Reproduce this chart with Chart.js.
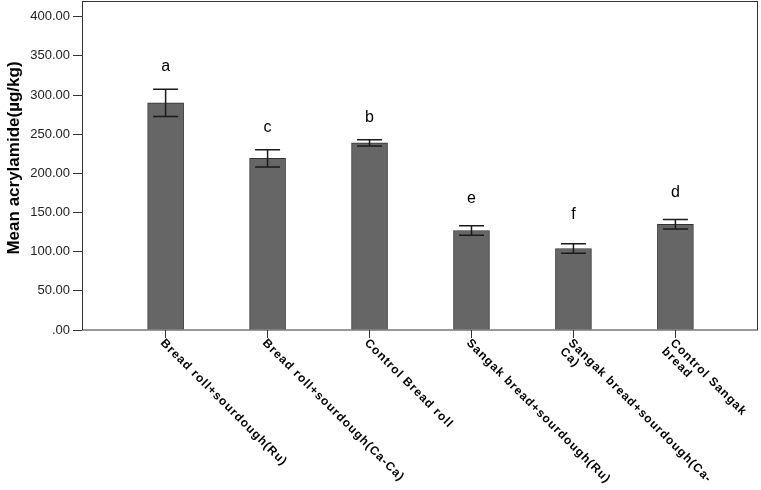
<!DOCTYPE html>
<html>
<head>
<meta charset="utf-8">
<script src="https://cdn.jsdelivr.net/npm/chart.js@4"></script>
<style>
html,body{margin:0;padding:0;background:#fff;}
#wrap{width:761px;height:490px;position:relative;}
</style>
</head>
<body>
<div id="wrap"><canvas id="c" width="761" height="490"></canvas></div>
<script>
// Data
const categories = [
  ['Bread roll+sourdough(Ru)'],
  ['Bread roll+sourdough(Ca-Ca)'],
  ['Control Bread roll'],
  ['Sangak bread+sourdough(Ru)'],
  ['Sangak bread+sourdough(Ca-', 'Ca)'],
  ['Control Sangak', 'bread']
];
const means = [290, 219, 239, 127, 104, 135];
const errors = [17.5, 11, 4, 6, 6, 6];
const letters = ['a', 'c', 'b', 'e', 'f', 'd'];
const letterLevels = [336, 259, 271, 168, 147, 176];
const yTicks = [0, 50, 100, 150, 200, 250, 300, 350, 400];
const yTitle = 'Mean acrylamide(µg/kg)';

const FONT = '"Liberation Sans", Arial, sans-serif';

const decor = {
  id: 'decor',
  afterDatasetsDraw(chart) {
    const ctx = chart.ctx;
    const xs = chart.scales.x, ys = chart.scales.y;
    ctx.save();
    // error bars
    ctx.strokeStyle = '#1a1a1a';
    ctx.lineWidth = 1.5;
    means.forEach((m, i) => {
      const x = xs.getPixelForValue(i);
      const yTop = ys.getPixelForValue(m + errors[i]);
      const yBot = ys.getPixelForValue(m - errors[i]);
      ctx.beginPath();
      ctx.moveTo(x, yTop); ctx.lineTo(x, yBot);
      ctx.moveTo(x - 12.5, yTop); ctx.lineTo(x + 12.5, yTop);
      ctx.moveTo(x - 12.5, yBot); ctx.lineTo(x + 12.5, yBot);
      ctx.stroke();
    });
    // letters
    ctx.fillStyle = '#000';
    ctx.font = '16px ' + FONT;
    ctx.textAlign = 'center';
    ctx.textBaseline = 'middle';
    letters.forEach((l, i) => {
      ctx.fillText(l, xs.getPixelForValue(i), ys.getPixelForValue(letterLevels[i]));
    });
    ctx.restore();
  },
  afterDraw(chart) {
    const ctx = chart.ctx;
    const a = chart.chartArea;
    const xs = chart.scales.x;
    ctx.save();
    ctx.strokeStyle = '#333';
    ctx.lineWidth = 1;
    ctx.strokeRect(Math.round(a.left) + 0.5, Math.round(a.top) + 0.5,
      Math.round(a.right - a.left) - 1, Math.round(a.bottom - a.top) - 0.5);
    // rotated category labels
    ctx.fillStyle = '#000';
    ctx.font = 'bold 12px ' + FONT;
    ctx.letterSpacing = '1px';
    ctx.textAlign = 'left';
    ctx.textBaseline = 'top';
    categories.forEach((lines, i) => {
      const x = xs.getPixelForValue(i);
      ctx.save();
      ctx.translate(x + 1, a.bottom + 7);
      ctx.rotate(Math.PI / 4);
      lines.forEach((t, k) => ctx.fillText(t, 0, k * 12));
      ctx.restore();
    });
    // y axis title
    ctx.letterSpacing = '0px';
    ctx.font = 'bold 17px ' + FONT;
    ctx.textAlign = 'center';
    ctx.textBaseline = 'middle';
    ctx.translate(14, 158);
    ctx.rotate(-Math.PI / 2);
    ctx.fillText(yTitle, 0, 0);
    ctx.restore();
  }
};

new Chart(document.getElementById('c'), {
  type: 'bar',
  data: {
    datasets: [{
      data: means.map((v, i) => ({ x: i, y: v })),
      backgroundColor: '#666666',
      borderColor: '#333333',
      borderWidth: 1,
      barThickness: 36
    }]
  },
  options: {
    responsive: false,
    animation: false,
    events: [],
    layout: { padding: { top: 1, right: 3, left: 0, bottom: 0 } },
    plugins: { legend: { display: false }, tooltip: { enabled: false } },
    scales: {
      x: {
        type: 'linear',
        offset: false,
        min: -0.82,
        max: 5.81,
        afterBuildTicks(scale) { scale.ticks = categories.map((c, i) => ({ value: i })); },
        afterFit(scale) { scale.height = 160; scale.paddingLeft = 0; scale.paddingRight = 0; },
        ticks: { display: false },
        grid: { offset: false, drawOnChartArea: false, tickLength: 8, tickColor: '#333', color: '#333' },
        border: { display: false }
      },
      y: {
        min: 0,
        max: 420,
        afterBuildTicks(scale) { scale.ticks = yTicks.map(v => ({ value: v })); },
        afterFit(scale) { scale.width = 82; scale.paddingTop = 0; scale.paddingBottom = 0; },
        ticks: {
          color: '#222',
          font: { size: 13, family: FONT },
          padding: 3,
          callback: v => v === 0 ? '.00' : v.toFixed(2)
        },
        grid: { drawOnChartArea: false, tickLength: 9, tickColor: '#333', color: '#333' },
        border: { display: false },
        title: { display: false }
      }
    }
  },
  plugins: [decor]
});
</script>
</body>
</html>
